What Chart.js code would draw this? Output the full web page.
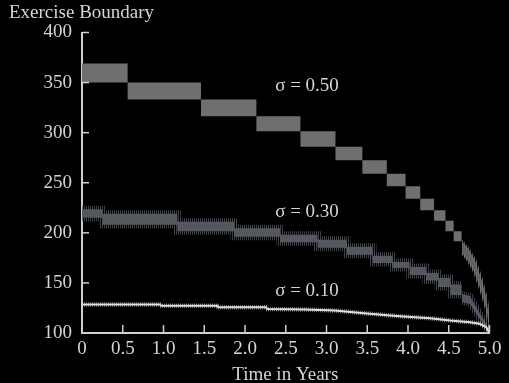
<!DOCTYPE html>
<html><head><meta charset="utf-8">
<style>html,body{margin:0;padding:0;background:#000;overflow:hidden}#wrap{width:509px;height:383px}</style>
<script src="https://cdn.jsdelivr.net/npm/chart.js@4/dist/chart.umd.min.js"></script>
</head><body><div id="wrap"><canvas id="c" width="509" height="383"></canvas></div>
<script>
// ---- data ----
const xTickLabels = ['0','0.5','1.0','1.5','2.0','2.5','3.0','3.5','4.0','4.5','5.0'];
const yAxisTitle = 'Exercise Boundary';
const xAxisTitle = 'Time in Years';

// sigma = 0.50 : stepped band (step start times, upper / lower edge)
const s50StepT   = [0, 0.56, 1.46, 2.14, 2.68, 3.11, 3.44, 3.74, 3.97, 4.15, 4.32, 4.46, 4.56];
const s50StepEnd = 4.66;
const s50Upper   = [369, 350, 333, 316.5, 301.5, 286, 272.5, 259, 246.5, 234, 222.5, 212, 201.5];
const s50Lower   = [350, 333, 316.5, 301.5, 286, 272.5, 259, 246.5, 234, 222.5, 212, 201.5, 191.5];
// sigma = 0.50 : tail near maturity
const s50TailT   = [4.66, 4.74, 4.82, 4.90, 4.96, 4.99, 5.0];
const s50TailTop = [191.5, 184, 173, 154, 136, 118, 101];
const s50TailBot = [180, 172, 160, 141, 124, 108, 100];

// sigma = 0.30 : noisy stepped band (dense core)
const s30StepT   = [0, 0.25, 1.17, 1.865, 2.43, 2.89, 3.25, 3.57, 3.81, 4.02, 4.22, 4.37, 4.52];
const s30StepEnd = 4.66;
const s30Upper   = [223.5, 219, 211, 204.5, 198, 193, 186, 177, 171, 166, 160, 155, 148.5];
const s30Lower   = [215, 208, 201.5, 196, 190.5, 185, 178, 170, 165, 158, 152.5, 146, 138];
const s30TailT   = [4.66, 4.76, 4.88, 4.95, 5.0];
const s30TailTop = [139, 137, 120, 111, 101];
const s30TailBot = [131, 129, 114, 106, 100];

// sigma = 0.10 : thin noisy line
const s10T = [0, 0.957, 0.97, 1.66, 1.67, 2.26, 2.27, 2.74, 3.10, 3.53, 3.90, 4.27, 4.52, 4.76, 4.88, 4.96, 5.0];
const s10V = [128.5, 128.5, 127.2, 127.2, 125.8, 125.8, 124, 123.5, 122.5, 119.2, 116.8, 114.8, 112.5, 110.8, 109.2, 105.8, 100];

// curve labels
const curveLabels = ['σ = 0.50', 'σ = 0.30', 'σ = 0.10'];
const curveLabelT = [2.37, 2.37, 2.37];
const curveLabelV = [346.5, 220.8, 141.5];

// ---- helpers ----
// staircase: each value holds from its start time to the next start time (or endT)
function stairPts(ts, vs, endT){
  const p = [];
  ts.forEach((t,i)=>{ const t2 = i < ts.length-1 ? ts[i+1] : endT; p.push({x:t,y:vs[i]}); p.push({x:t2,y:vs[i]}); });
  return p;
}
function pts(ts, vs){ return ts.map((t,i)=>({x:t,y:vs[i]})); }
function stripes(color){
  const c = document.createElement('canvas'); c.width = 2; c.height = 1;
  const g = c.getContext('2d'); g.fillStyle = color; g.fillRect(0,0,1,1);
  return g.createPattern(c, 'repeat');
}
const TXT = '#d4d4d4', AX = '#cfcfcf';
const FONT = 'Liberation Serif';

const bgPlugin = { id:'bg', beforeDraw(ch){ const c=ch.ctx; c.save(); c.fillStyle='#000'; c.fillRect(0,0,ch.width,ch.height); c.restore(); } };
const decoPlugin = { id:'deco', afterDraw(ch){
  const c = ch.ctx, xs = ch.scales.x, ys = ch.scales.y;
  c.save();
  c.strokeStyle = AX; c.lineWidth = 1.5;
  ys.ticks.forEach(t=>{ const py = ys.getPixelForValue(t.value); c.beginPath(); c.moveTo(xs.left, py); c.lineTo(xs.left+7, py); c.stroke(); });
  xs.ticks.forEach(t=>{ const px = xs.getPixelForValue(t.value); c.beginPath(); c.moveTo(px, ys.bottom); c.lineTo(px, ys.bottom-8); c.stroke(); });
  c.fillStyle = TXT; c.font = '19px "'+FONT+'"'; c.textBaseline = 'alphabetic'; c.textAlign = 'left';
  c.fillText(yAxisTitle, 9, 18);
  c.textAlign = 'center';
  c.fillText(xAxisTitle, (xs.left + xs.right) / 2 - 0.5, 379.5);
  c.textAlign = 'left'; c.textBaseline = 'middle';
  curveLabels.forEach((s,i)=>{ c.fillText(s, xs.getPixelForValue(curveLabelT[i]), ys.getPixelForValue(curveLabelV[i])); });
  c.restore();
}};

const g50 = '#6f6f6f', g30 = 'rgb(84,86,94)', e30 = 'rgba(88,90,98,0.7)';
new Chart(document.getElementById('c'), {
  type: 'line',
  data: { datasets: [
    { data: pts(s10T, s10V), borderColor: '#dedede', borderWidth: 2, fill: false },
    { data: pts(s10T, s10V), borderColor: stripes('rgba(225,225,225,0.5)'), borderWidth: 4.5, fill: false },
    { data: stairPts(s30StepT, s30Upper, s30StepEnd), borderColor: stripes(e30), borderWidth: 7, fill: false },
    { data: stairPts(s30StepT, s30Lower, s30StepEnd), borderColor: stripes(e30), borderWidth: 7, fill: '-1', backgroundColor: g30 },
    { data: pts(s30TailT, s30TailTop), borderColor: stripes(e30), borderWidth: 6, fill: false },
    { data: pts(s30TailT, s30TailBot), borderColor: stripes(e30), borderWidth: 6, fill: '-1', backgroundColor: g30 },
    { data: stairPts(s50StepT, s50Upper, s50StepEnd), borderWidth: 0, borderColor: 'rgba(0,0,0,0)', fill: false },
    { data: stairPts(s50StepT, s50Lower, s50StepEnd), borderWidth: 0, borderColor: 'rgba(0,0,0,0)', fill: '-1', backgroundColor: g50 },
    { data: pts(s50TailT, s50TailTop), borderColor: stripes('rgba(120,120,120,0.8)'), borderWidth: 3, fill: false },
    { data: pts(s50TailT, s50TailBot), borderColor: stripes('rgba(120,120,120,0.8)'), borderWidth: 3, fill: '-1', backgroundColor: 'rgba(112,112,112,0.85)' }
  ]},
  options: {
    responsive: false, animation: false, maintainAspectRatio: false,
    elements: { point: { radius: 0 }, line: { tension: 0 } },
    layout: { padding: { top: 32.5, right: 19.5, left: 0, bottom: 0 } },
    plugins: { legend: { display: false }, tooltip: { enabled: false } },
    scales: {
      x: { type: 'linear', min: 0, max: 5,
        afterFit(s){ s.height = 50; },
        grid: { display: false, drawTicks: false },
        border: { display: true, color: AX, width: 2 },
        ticks: { stepSize: 0.5, padding: 5, color: TXT, font: { family: FONT, size: 19 }, maxRotation: 0, autoSkip: false,
          callback: (v, i) => xTickLabels[i] }
      },
      y: { min: 100, max: 400,
        afterFit(s){ s.width = 82; },
        grid: { display: false, drawTicks: false },
        border: { display: true, color: AX, width: 2 },
        ticks: { stepSize: 50, padding: 10, color: TXT, font: { family: FONT, size: 19 } }
      }
    }
  },
  plugins: [bgPlugin, decoPlugin]
});
</script></body></html>
